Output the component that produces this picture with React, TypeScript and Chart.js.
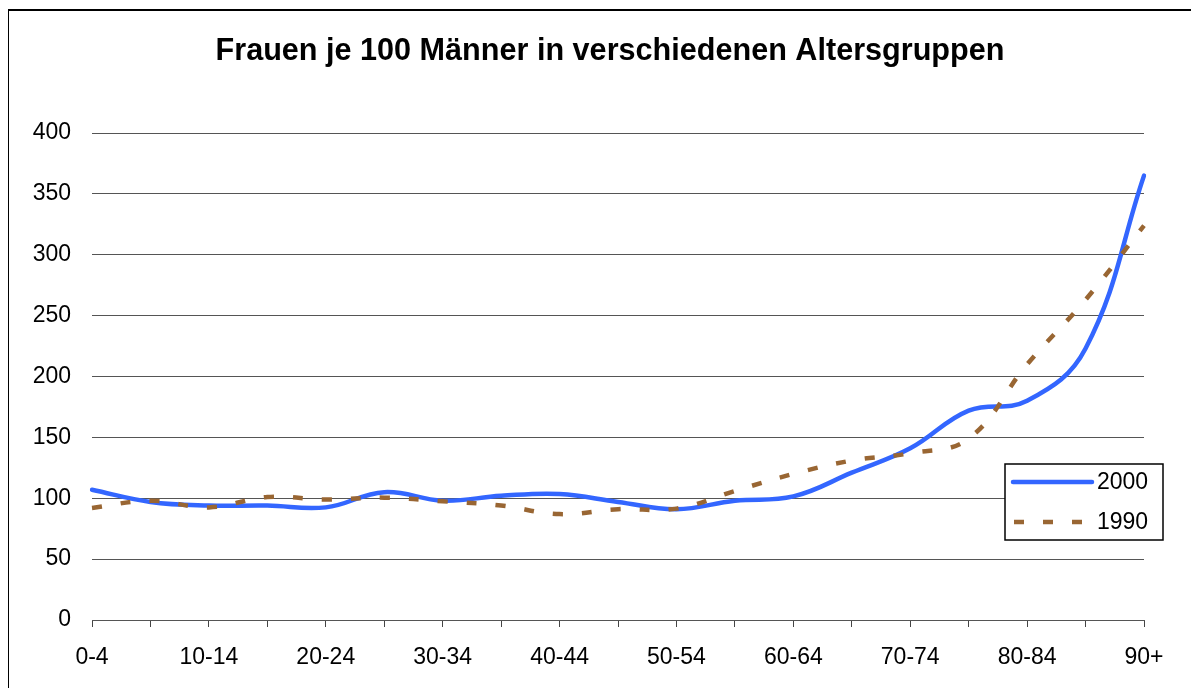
import React, { useEffect, useRef } from "react";
import { Chart, registerables } from "chart.js";

Chart.register(...registerables);

const ageGroups = [
  "0-4", "5-9", "10-14", "15-19", "20-24", "25-29", "30-34", "35-39", "40-44",
  "45-49", "50-54", "55-59", "60-64", "65-69", "70-74", "75-79", "80-84", "85-89", "90+",
];
const values2000 = [107, 97, 94, 94, 92.5, 105, 98, 102, 103.5, 97, 91, 98, 101.5, 121, 141, 172, 180, 223, 365];
const values1990 = [92, 98, 92.5, 101, 99, 100.5, 97.5, 94, 87, 91, 91.5, 106, 120, 131, 137, 149, 210, 263, 324];
const yTicks = [0, 50, 100, 150, 200, 250, 300, 350, 400];

const TITLE = "Frauen je 100 Männer in verschiedenen Altersgruppen";
const SERIES_NAMES = ["2000", "1990"];
const BLUE = "#3366FF";
const BROWN = "#996633";
const FONT = "'Liberation Sans', Arial, Helvetica, sans-serif";

const titlePlugin = {
  id: "centeredTitle",
  afterDraw(chart: any) {
    const ctx = chart.ctx;
    ctx.save();
    ctx.fillStyle = "#000";
    ctx.font = `bold 30.6px ${FONT}`;
    ctx.textAlign = "center";
    ctx.textBaseline = "alphabetic";
    ctx.fillText(TITLE, 602, 52);
    ctx.restore();
  },
};

const legendPlugin = {
  id: "boxLegend",
  afterDraw(chart: any) {
    const ctx = chart.ctx;
    const x0 = 997, y0 = 456, w = 158, h = 76;
    ctx.save();
    ctx.fillStyle = "#fff";
    ctx.fillRect(x0, y0, w, h);
    ctx.strokeStyle = "#000";
    ctx.lineWidth = 1.5;
    ctx.strokeRect(x0, y0, w, h);
    // 2000
    ctx.lineCap = "round";
    ctx.strokeStyle = BLUE;
    ctx.lineWidth = 4.5;
    ctx.beginPath();
    ctx.moveTo(1005, 474);
    ctx.lineTo(1084, 474);
    ctx.stroke();
    // 1990
    ctx.lineCap = "butt";
    ctx.strokeStyle = BROWN;
    ctx.setLineDash([10, 19]);
    ctx.beginPath();
    ctx.moveTo(1006, 514);
    ctx.lineTo(1085, 514);
    ctx.stroke();
    ctx.setLineDash([]);
    ctx.fillStyle = "#000";
    ctx.font = `23px ${FONT}`;
    ctx.textAlign = "left";
    ctx.textBaseline = "middle";
    ctx.fillText(SERIES_NAMES[0], 1089, 475);
    ctx.fillText(SERIES_NAMES[1], 1089, 515);
    ctx.restore();
  },
};

export default function App() {
  const ref = useRef<HTMLCanvasElement | null>(null);

  useEffect(() => {
    if (!ref.current) return;
    const chart = new Chart(ref.current, {
      type: "line",
      data: {
        labels: ageGroups,
        datasets: [
          {
            label: SERIES_NAMES[0],
            data: values2000,
            borderColor: BLUE,
            backgroundColor: BLUE,
            borderWidth: 4.5,
            pointRadius: 0,
            tension: 0.4,
            order: 1,
            borderCapStyle: "round",
          },
          {
            label: SERIES_NAMES[1],
            data: values1990,
            borderColor: BROWN,
            backgroundColor: BROWN,
            borderWidth: 4.5,
            borderDash: [10, 19],
            pointRadius: 0,
            tension: 0.4,
            order: 0,
          },
        ],
      },
      options: {
        responsive: false,
        devicePixelRatio: 1,
        animation: false,
        layout: { padding: { left: 0, right: 55, top: 125, bottom: 0 } },
        plugins: {
          legend: { display: false },
          tooltip: { enabled: false },
          title: { display: false },
        },
        scales: {
          x: {
            offset: false,
            grid: {
              drawOnChartArea: false,
              drawTicks: true,
              tickLength: 7,
              color: "#444",
            },
            border: { display: true, color: "#555", width: 1 },
            ticks: {
              autoSkip: false,
              maxRotation: 0,
              minRotation: 0,
              padding: 17,
              color: "#000",
              font: { family: FONT, size: 23 },
              callback: (_v: any, i: number) => (i % 2 === 0 ? ageGroups[i] : ""),
            },
            afterFit: (scale: any) => {
              scale.height = 68;
            },
          },
          y: {
            min: yTicks[0],
            max: yTicks[yTicks.length - 1],
            grid: { color: "#555", drawTicks: false, lineWidth: 1 },
            border: { display: false },
            ticks: {
              stepSize: 50,
              padding: 21,
              color: "#000",
              font: { family: FONT, size: 23 },
            },
            afterFit: (scale: any) => {
              scale.width = 84;
            },
          },
        },
      },
      plugins: [titlePlugin, legendPlugin],
    });
    return () => chart.destroy();
  }, []);

  return (
    <div style={{ position: "relative", width: 1191, height: 680, overflow: "hidden" }}>
      <div
        style={{
          position: "absolute",
          left: -1,
          top: 1,
          width: 2000,
          height: 2000,
          borderLeft: "2px solid #000",
          borderTop: "2px solid #000",
        }}
      />
      <canvas
        ref={ref}
        width={1191}
        height={680}
        style={{ position: "absolute", left: 0, top: 0, width: 1191, height: 680 }}
      />
    </div>
  );
}
